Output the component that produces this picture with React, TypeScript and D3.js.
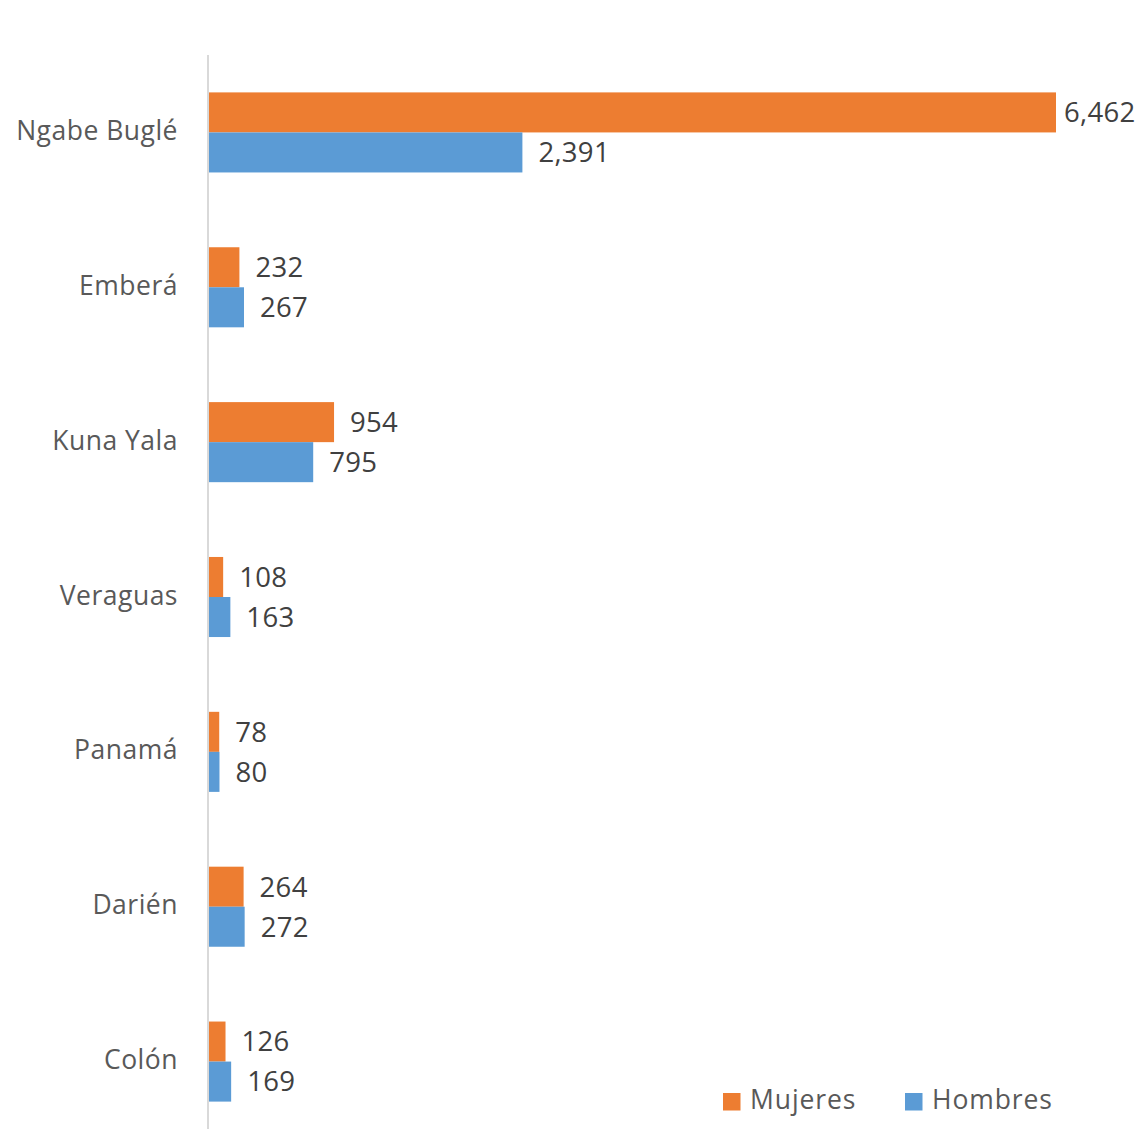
import { useEffect, useRef } from "react";
import * as d3 from "d3";

const categories = ["Ngabe Buglé", "Emberá", "Kuna Yala", "Veraguas", "Panamá", "Darién", "Colón"];
const seriesNames = ["Mujeres", "Hombres"];
const mujeres = [6462, 232, 954, 108, 78, 264, 126];
const hombres = [2391, 267, 795, 163, 80, 272, 169];
const seriesColors = ["#ED7D31", "#5B9BD5"];

const width = 1140;
const height = 1129;
const margin = { top: 55, right: 84, bottom: -10, left: 209 };
const font = "'Open Sans', sans-serif";

const App = () => {
  const svgRef = useRef<SVGSVGElement | null>(null);

  useEffect(() => {
    document.body.style.margin = "0";
    if (!svgRef.current) return;
    const svg = d3.select(svgRef.current);
    svg.selectAll("*").remove();

    const values = [mujeres, hombres];

    const x = d3
      .scaleLinear()
      .domain([0, 6462])
      .range([margin.left, width - margin.right]);

    const y = d3
      .scaleBand()
      .domain(categories)
      .range([margin.top, height - margin.bottom])
      .paddingInner(0.483)
      .paddingOuter(0.2415);

    const sub = d3.scaleBand().domain(seriesNames).range([0, y.bandwidth()]);

    // axis line
    svg
      .append("line")
      .attr("x1", margin.left - 1)
      .attr("x2", margin.left - 1)
      .attr("y1", margin.top)
      .attr("y2", height)
      .attr("stroke", "#d9d9d9")
      .attr("stroke-width", 2);

    // category labels
    svg
      .append("g")
      .selectAll("text")
      .data(categories)
      .enter()
      .append("text")
      .attr("x", margin.left - 31)
      .attr("y", (d) => (y(d) ?? 0) + y.bandwidth() / 2 - 2)
      .attr("dy", "0.36em")
      .attr("text-anchor", "end")
      .attr("fill", "#595959")
      .style("font-family", font)
      .style("font-size", "26.5px")
      .style("letter-spacing", "0.5px")
      .text((d) => d);

    seriesNames.forEach((s, si) => {
      const g = svg.append("g");
      const rows = categories.map((c, i) => ({ c, v: values[si][i] }));
      g.selectAll("rect")
        .data(rows)
        .enter()
        .append("rect")
        .attr("x", x(0))
        .attr("y", (d) => (y(d.c) ?? 0) + (sub(s) ?? 0))
        .attr("width", (d) => x(d.v) - x(0))
        .attr("height", sub.bandwidth())
        .attr("fill", seriesColors[si]);

      g.selectAll("text")
        .data(rows)
        .enter()
        .append("text")
        .attr("x", (d) => Math.min(x(d.v) + 16, width - 76))
        .attr("y", (d) => (y(d.c) ?? 0) + (sub(s) ?? 0) + sub.bandwidth() / 2)
        .attr("dy", "0.36em")
        .attr("fill", "#404040")
        .style("font-family", font)
        .style("font-size", "27.5px")
        .style("letter-spacing", "0.3px")
        .text((d) => d3.format(",")(d.v));
    });

    // legend
    const legendX = [723, 905];
    seriesNames.forEach((s, si) => {
      const lg = svg.append("g").attr("transform", `translate(${legendX[si]},1093)`);
      lg.append("rect").attr("width", 17.5).attr("height", 17.5).attr("fill", seriesColors[si]);
      lg.append("text")
        .attr("x", 27)
        .attr("y", 6)
        .attr("dy", "0.36em")
        .attr("fill", "#595959")
        .style("font-family", font)
        .style("font-size", "26.5px")
        .style("letter-spacing", "0.9px")
        .text(s);
    });
  }, []);

  return <svg ref={svgRef} width={width} height={height} style={{ display: "block" }}></svg>;
};

export default App;
